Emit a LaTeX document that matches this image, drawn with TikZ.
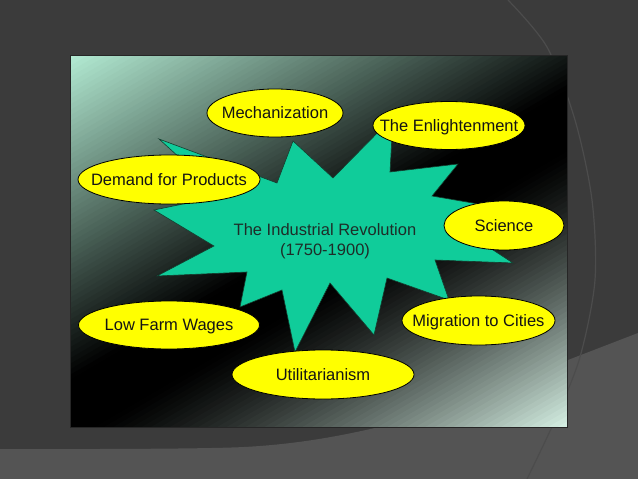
\documentclass[tikz,border=0pt]{standalone}
\usepackage{fontspec}
\setmainfont{Liberation Sans}
\usetikzlibrary{shapes.geometric}
\definecolor{bgdark}{RGB}{59,59,59}
\definecolor{bglight}{RGB}{84,84,84}
\definecolor{arcline}{RGB}{76,76,76}
\definecolor{mintA}{RGB}{180,236,212}
\definecolor{mintB}{RGB}{214,240,228}
\definecolor{starfill}{RGB}{16,204,154}
\definecolor{stardark}{RGB}{20,60,45}
\definecolor{yell}{RGB}{255,255,0}
\definecolor{titletext}{RGB}{30,45,40}
\newcommand{\bubbletext}[1]{\makebox[0pt]{#1}}
\begin{document}
\begin{tikzpicture}[x=1pt,y=-1pt,
  bubble/.style={ellipse, draw=black, line width=0.8pt, fill=yell, inner sep=0pt,
    text height=11.8pt, text depth=0pt, text=black!92,
    font=\fontsize{16.5}{19.8}\selectfont},
  burst/.style={fill=starfill, draw=stardark, line width=0.6pt, line join=miter},
  framebox/.style={draw=black!85, line width=0.8pt}]
\useasboundingbox (0,0) rectangle (638,479);
% slide background
\fill[bgdark] (0,0) rectangle (638,479);
\fill[bglight] plot[smooth] coordinates {(0,449) (244,447) (366,430) (470,398) (568,360) (638,333)} -- (638,479) -- (0,479) -- cycle;
\draw[arcline, line width=1.2pt] plot[smooth] coordinates {(508,0) (547,47) (575,120) (592,200) (595,280) (580,357) (555,420) (527,479)};
% gradient panel
\begin{scope}
\clip (70,55) rectangle (567,427);
\foreach \i in {0,...,119} {
  \pgfmathsetmacro\sa{\i/120}
  \pgfmathsetmacro\sb{(\i+1.4)/120}
  \pgfmathsetmacro\sm{(\i+0.5)/120}
  \pgfmathsetmacro\pa{max(0,100*(1-\sm/0.49))}
  \pgfmathsetmacro\pb{100*(max(0,(\sm-0.58)/0.42))^1.3}
  \pgfmathsetmacro\xa{70+288.16*\sa}
  \pgfmathsetmacro\ya{55+493.85*\sa}
  \pgfmathsetmacro\xb{70+288.16*\sb}
  \pgfmathsetmacro\yb{55+493.85*\sb}
  \ifdim\sm pt<0.55pt
    \def\stripcol{mintA!\pa!black}
  \else
    \def\stripcol{mintB!\pb!black}
  \fi
  \fill[color=\stripcol] ({\xa+994},{\ya-580}) -- ({\xa-994},{\ya+580}) -- ({\xb-994},{\yb+580}) -- ({\xb+994},{\yb-580}) -- cycle;
}
\end{scope}
\draw[framebox] (70,55) rectangle (567,427);
% starburst
\fill[burst] (159,139) -- (277,183) -- (293,141) -- (333,178) -- (393,117) -- (390,172)
  -- (458,164) -- (432,196) -- (490,206) -- (470,235) -- (513,263) -- (435,260)
  -- (449,300) -- (387,278) -- (374,335) -- (330,283) -- (295,352) -- (282,290)
  -- (240,307) -- (247,272) -- (157,276) -- (214,246) -- (154,210) -- (222,196) -- cycle;
\node[align=center, text=titletext, font=\fontsize{16.5}{19.6}\selectfont] (title) at (325,241.3) {The Industrial Revolution\\(1750-1900)};
% ellipses
\node[bubble, minimum width=136pt, minimum height=48pt] (mech) at (275,113) {\bubbletext{Mechanization}};
\node[bubble, minimum width=152pt, minimum height=48pt] (enl) at (449,125.5) {\bubbletext{The Enlightenment}};
\node[bubble, minimum width=182pt, minimum height=49pt] (dem) at (169,179.5) {\bubbletext{Demand for Products}};
\node[bubble, minimum width=120pt, minimum height=49pt] (sci) at (504,225.5) {\bubbletext{Science}};
\node[bubble, minimum width=181pt, minimum height=48pt] (low) at (169,325) {\bubbletext{Low Farm Wages}};
\node[bubble, minimum width=153pt, minimum height=49pt] (mig) at (478.5,320.5) {\bubbletext{Migration to Cities}};
\node[bubble, minimum width=182pt, minimum height=49pt] (util) at (323,374.5) {\bubbletext{Utilitarianism}};
\end{tikzpicture}
\end{document}
